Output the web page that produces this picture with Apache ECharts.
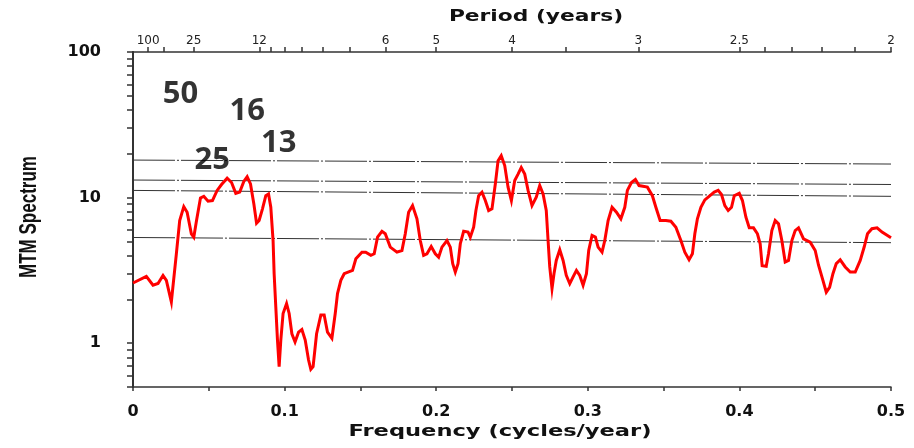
<!DOCTYPE html>
<html>
<head>
<meta charset="utf-8">
<script src="https://cdn.jsdelivr.net/npm/echarts@6/dist/echarts.min.js"></script>
<style>
  html, body { margin: 0; padding: 0; background: #fff; }
  #chart { width: 914px; height: 448px; }
</style>
</head>
<body>
<div id="chart"></div>
<script>
// Multitaper (MTM) spectrum: frequency in cycles/year, power on a log scale
const freq = [
  0, 0.0088, 0.0132, 0.0165, 0.0198, 0.022, 0.0253, 0.0286, 0.0308, 0.0335,
  0.0357, 0.0385, 0.0401, 0.0419, 0.0445, 0.0467, 0.0495, 0.0524, 0.0555, 0.0584,
  0.0621, 0.065, 0.0678, 0.0704, 0.0731, 0.0753, 0.0775, 0.0797, 0.0815, 0.0832,
  0.0854, 0.0876, 0.0894, 0.0909, 0.0924, 0.0931, 0.0942, 0.0953, 0.0964, 0.0975,
  0.099, 0.1013, 0.103, 0.1048, 0.1069, 0.1092, 0.1114, 0.1136, 0.1158, 0.1173,
  0.1188, 0.1211, 0.1239, 0.1261, 0.1283, 0.1312, 0.1334, 0.1349, 0.1371, 0.1393,
  0.1448, 0.147, 0.151, 0.1535, 0.1569, 0.1591, 0.1613, 0.1642, 0.1664, 0.1697,
  0.1741, 0.1774, 0.1796, 0.1818, 0.1844, 0.1873, 0.1895, 0.1917, 0.1939, 0.1967,
  0.1994, 0.2016, 0.2038, 0.2071, 0.2093, 0.2109, 0.2126, 0.2144, 0.2159, 0.2181,
  0.221, 0.2225, 0.2247, 0.2262, 0.228, 0.2302, 0.2324, 0.2346, 0.2368, 0.239,
  0.2408, 0.2429, 0.2452, 0.2474, 0.2496, 0.2518, 0.254, 0.2561, 0.2584, 0.2606,
  0.2632, 0.266, 0.2683, 0.2705, 0.2726, 0.2738, 0.2749, 0.2764, 0.2777, 0.2792,
  0.2815, 0.2837, 0.2858, 0.2881, 0.2903, 0.2925, 0.2947, 0.2969, 0.2991, 0.3006,
  0.3028, 0.305, 0.3068, 0.3094, 0.3112, 0.3134, 0.316, 0.3189, 0.3218, 0.3244,
  0.3261, 0.3288, 0.3314, 0.3338, 0.3393, 0.3426, 0.3449, 0.3477, 0.3515, 0.3548,
  0.3581, 0.3614, 0.364, 0.3668, 0.369, 0.3706, 0.3723, 0.3746, 0.3772, 0.38,
  0.3834, 0.386, 0.3882, 0.3904, 0.3926, 0.3948, 0.3966, 0.3999, 0.402, 0.4043,
  0.4065, 0.4093, 0.4119, 0.4137, 0.4150, 0.4177, 0.4192, 0.4214, 0.4236, 0.4258,
  0.428, 0.4302, 0.4324, 0.4346, 0.4368, 0.439, 0.4423, 0.4467, 0.45, 0.4522,
  0.4551, 0.4573, 0.4595, 0.4617, 0.4639, 0.4665, 0.4698, 0.4731, 0.4764, 0.4797,
  0.4824, 0.4845, 0.4874, 0.4908, 0.4941, 0.5
];
const mtm = [
  2.59, 2.88, 2.50, 2.57, 2.92, 2.70, 1.92, 4.11, 6.96, 8.67,
  7.93, 5.64, 5.35, 6.96, 9.95, 10.2, 9.44, 9.54, 11.2, 12.3,
  13.6, 12.7, 10.7, 10.9, 12.9, 13.9, 12.4, 9.06, 6.67, 6.96,
  8.37, 10.3, 10.6, 8.58, 5.07, 3.0, 1.77, 1.05, 0.69, 1.05,
  1.60, 1.87, 1.60, 1.16, 1.02, 1.19, 1.24, 1.05, 0.766, 0.661,
  0.69, 1.16, 1.56, 1.56, 1.19, 1.08, 1.60, 2.19, 2.70, 3.0,
  3.16, 3.80, 4.22, 4.22, 4.01, 4.11, 5.35, 5.87, 5.64, 4.57,
  4.22, 4.33, 5.64, 7.93, 8.81, 7.15, 5.07, 4.01, 4.11, 4.61,
  4.11, 3.90, 4.57, 5.07, 4.57, 3.52, 3.08, 3.52, 4.82, 5.87,
  5.79, 5.35, 6.26, 8.15, 10.3, 10.9, 9.54, 8.15, 8.37, 12.4,
  17.9, 19.4, 16.6, 11.8, 9.54, 13.1, 14.5, 16.1, 14.5, 11.2,
  8.81, 10.05, 12.1, 10.6, 8.15, 5.07, 3.34, 2.37, 3.0, 3.70,
  4.38, 3.70, 2.92, 2.56, 2.85, 3.16, 2.92, 2.50, 3.0, 4.33,
  5.49, 5.35, 4.57, 4.22, 5.07, 6.96, 8.58, 7.93, 7.15, 8.58,
  11.2, 12.7, 13.3, 12.1, 11.8, 10.3, 8.58, 6.96, 6.96, 6.88,
  6.26, 5.07, 4.22, 3.74, 4.11, 5.64, 7.15, 8.58, 9.64, 10.2,
  10.9, 11.2, 10.5, 8.81, 8.15, 8.58, 10.3, 10.7, 9.54, 7.33,
  6.20, 6.20, 5.64, 4.82, 3.40, 3.37, 4.11, 5.94, 6.96, 6.60,
  5.07, 3.61, 3.70, 5.07, 5.94, 6.20, 5.21, 4.94, 4.33, 3.43,
  2.70, 2.24, 2.42, 3.0, 3.52, 3.74, 3.34, 3.08, 3.08, 3.70,
  4.61, 5.64, 6.11, 6.20, 5.79, 5.30
];

// Confidence levels against the red-noise background (start and end of band)
const levelFreq = [0, 0.5];
const level99 = [18.1, 17.0];
const level95 = [13.2, 12.3];
const level90 = [11.2, 10.2];
const level50 = [5.32, 4.90];

// Peak period annotations (years)
const peakNames = ['50', '16', '25', '13'];
const peakFreq = [0.0313, 0.0754, 0.0523, 0.0962];
const peakLevel = [51.2, 39.5, 18.2, 23.6];

// Axis ticks and labels
const freqTicks = [0, 0.05, 0.1, 0.15, 0.2, 0.25, 0.3, 0.35, 0.4, 0.45, 0.5];
const freqLabels = [0, 0.1, 0.2, 0.3, 0.4, 0.5];
const periodTicks = [100, 50, 25, 12, 11, 10, 9, 8, 7, 6, 5, 4, 3.5, 3, 2.5, 2.4, 2.3, 2.2, 2.1, 2];
const periodLabels = [100, 25, 12, 6, 5, 4, 3, 2.5, 2];
const powerTicks = [0.5, 0.6, 0.7, 0.8, 0.9, 1, 2, 3, 4, 5, 6, 7, 8, 9, 10, 20, 30, 40, 50, 60, 70, 80, 90, 100];
const powerLabels = [1, 10, 100];

const axisColor = '#333';
const labelFont = { fontFamily: 'DejaVu Sans', fontWeight: 'bold', fontSize: 16, color: '#111' };

function levelSeries(name, values) {
  return {
    name: name,
    type: 'line',
    xAxisIndex: 0,
    yAxisIndex: 0,
    data: levelFreq.map((f, i) => [f, values[i]]),
    showSymbol: false,
    silent: true,
    z: 2,
    lineStyle: { color: '#333', width: 1, type: [42, 2, 2, 2] }
  };
}

const chart = echarts.init(document.getElementById('chart'));
chart.setOption({
  animation: false,
  backgroundColor: '#fff',
  grid: { left: 133, right: 23, top: 52, bottom: 61 },
  xAxis: [
    {
      type: 'value', min: 0, max: 0.5, position: 'bottom',
      axisLine: { show: true, lineStyle: { color: axisColor, width: 1.5 } },
      axisTick: { show: true, customValues: freqTicks, length: 4, lineStyle: { color: axisColor, width: 1.5 } },
      axisLabel: Object.assign({ customValues: freqLabels, margin: 17, formatter: v => String(v) }, labelFont),
      splitLine: { show: false }
    },
    {
      type: 'value', min: 0, max: 0.5, position: 'top',
      axisLine: { show: true, lineStyle: { color: axisColor, width: 1.5 } },
      axisTick: { show: true, customValues: periodTicks.map(p => 1 / p), length: 5, lineStyle: { color: axisColor, width: 1.5 } },
      axisLabel: {
        customValues: periodLabels.map(p => 1 / p),
        formatter: v => String(Math.round(10 / v) / 10),
        margin: 5, fontFamily: 'DejaVu Sans', fontSize: 12, color: '#222'
      },
      splitLine: { show: false }
    }
  ],
  yAxis: [
    {
      type: 'log', logBase: 10, min: 0.5, max: 100, position: 'left',
      axisLine: { show: true, lineStyle: { color: axisColor, width: 1.5 } },
      axisTick: { show: true, customValues: powerTicks, length: 6, lineStyle: { color: axisColor, width: 1.5 } },
      axisLabel: Object.assign({ customValues: powerLabels, margin: 32, formatter: v => String(v) }, labelFont),
      minorTick: { show: false },
      splitLine: { show: false }
    },
    {
      type: 'log', logBase: 10, min: 0.5, max: 100, position: 'right',
      axisLine: { show: true, lineStyle: { color: axisColor, width: 2 } },
      axisTick: { show: false },
      axisLabel: { show: false },
      splitLine: { show: false }
    }
  ],
  graphic: [
    {
      type: 'text', x: 536, y: 17, scaleX: 1.36,
      style: { text: 'Period (years)', fill: '#111', font: 'bold 16px "DejaVu Sans"', align: 'center', verticalAlign: 'middle' }
    },
    {
      type: 'text', x: 500, y: 432, scaleX: 1.41,
      style: { text: 'Frequency (cycles/year)', fill: '#111', font: 'bold 16px "DejaVu Sans"', align: 'center', verticalAlign: 'middle' }
    },
    {
      type: 'text', x: 30, y: 217, rotation: Math.PI / 2, scaleX: 0.74,
      style: { text: 'MTM Spectrum', fill: '#111', font: 'bold 23px "Liberation Sans"', align: 'center', verticalAlign: 'middle' }
    }
  ],
  series: [
    levelSeries('99%', level99),
    levelSeries('95%', level95),
    levelSeries('90%', level90),
    levelSeries('50%', level50),
    {
      name: 'MTM',
      type: 'line',
      xAxisIndex: 0,
      yAxisIndex: 0,
      data: freq.map((f, i) => [f, mtm[i]]),
      showSymbol: false,
      z: 3,
      lineStyle: { color: '#ff0000', width: 3, join: 'miter' }
    },
    {
      name: 'Peaks',
      type: 'scatter',
      xAxisIndex: 0,
      yAxisIndex: 0,
      symbolSize: 0,
      silent: true,
      z: 4,
      data: peakNames.map((n, i) => [peakFreq[i], peakLevel[i], n]),
      label: {
        show: true, position: 'inside', formatter: p => p.value[2],
        fontFamily: 'Open Sans', fontWeight: 'bold', fontSize: 31, color: '#000'
      }
    }
  ]
});
</script>
</body>
</html>
